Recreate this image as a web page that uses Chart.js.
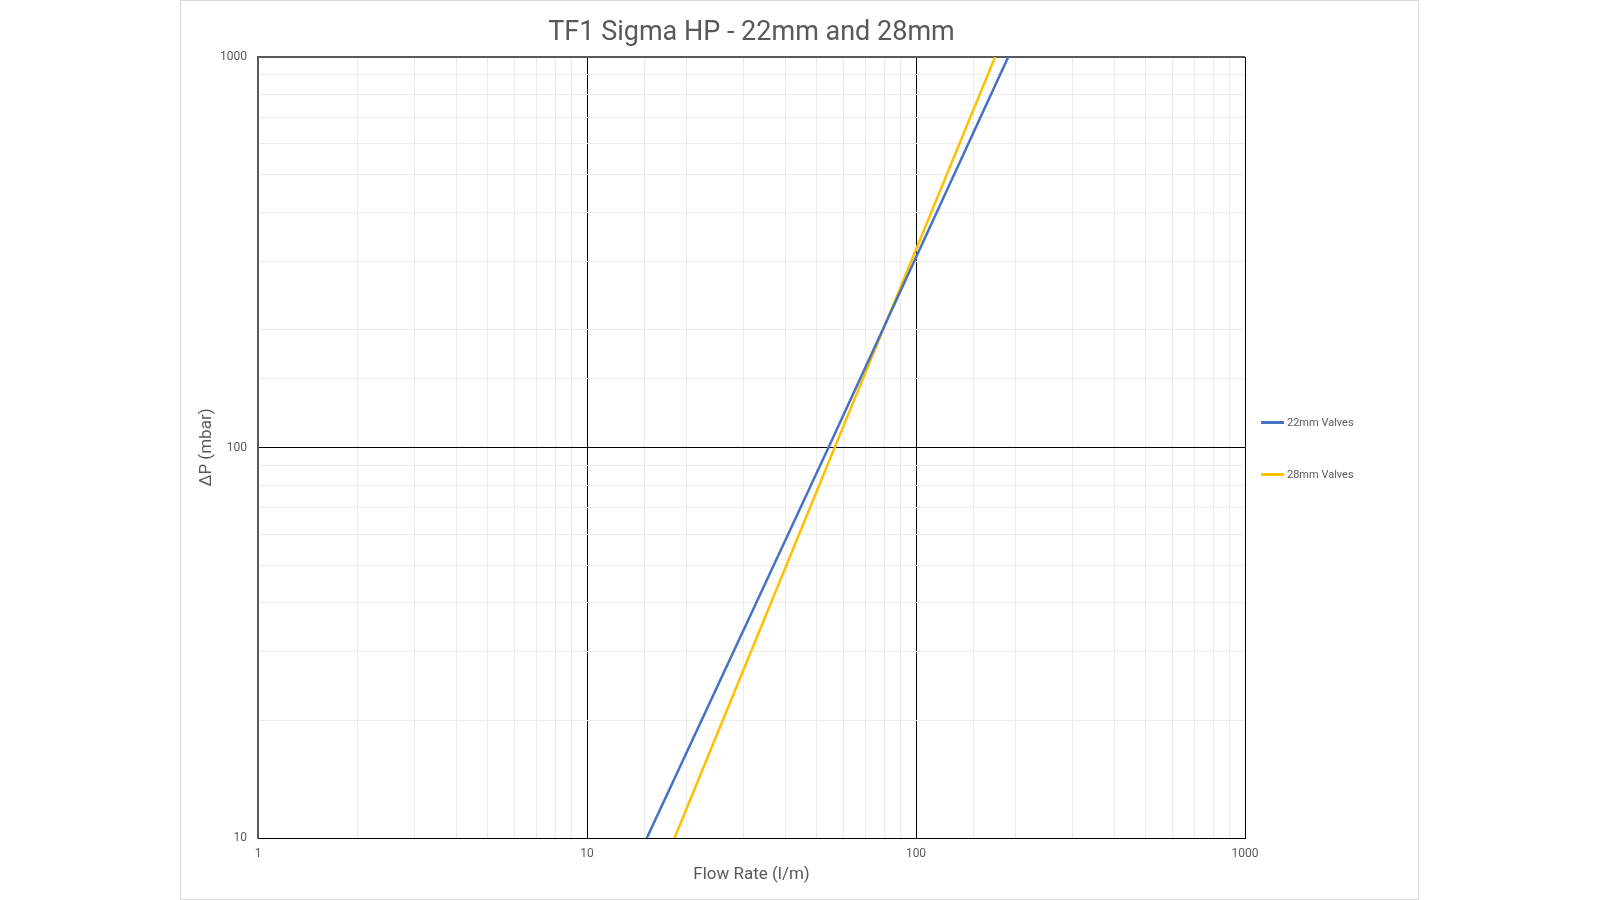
<!DOCTYPE html>
<html lang="en">
<head>
    <meta charset="UTF-8">
    <title>TF1 Sigma HP - 22mm and 28mm</title>
    <script src="https://cdn.jsdelivr.net/npm/chart.js"></script>
    <style>
        body {
            margin: 0;
            background: #ffffff;
            font-family: Roboto, sans-serif;
        }

        .frame {
            position: absolute;
            left: 180px;
            top: 0;
            width: 1237px;
            height: 898px;
            border: 1px solid #d9d9d9;
        }

        .chart-box {
            position: absolute;
            left: 181px;
            top: 0;
            width: 1237px;
            height: 899px;
        }

        /* legend on the right */
        .legend {
            position: absolute;
            left: 1261px;
            top: 0;
            color: #595959;
            font-size: 11px;
        }

        .legend-item {
            position: absolute;
            left: 0;
            white-space: nowrap;
            display: flex;
            align-items: center;
        }

        .legend-line {
            width: 23px;
            height: 2.5px;
            margin-right: 3px;
        }
    </style>
</head>
<body>
    <div class="frame"></div>
    <div class="chart-box">
        <canvas id="flowChart" width="1237" height="899"></canvas>
    </div>
    <div class="legend" id="legend"></div>

<script>
    // pressure drop (mbar) where each line crosses the grid
    const pressureDrop = [10, 100, 1000];
    // flow rate (l/m) read at those pressure drops
    const flow22mm = [15.2, 54.2, 190.7];
    const flow28mm = [18.45, 56.6, 173.9];

    const seriesNames = ["22mm Valves", "28mm Valves"];
    const seriesColors = ["#4472C4", "#FFC000"];

    const majorValues = [1, 10, 100, 1000];

    function toPoints(flows) {
        return flows.map((f, i) => ({ x: f, y: pressureDrop[i] }));
    }

    function gridColor(ctx, edgeValue) {
        let v = ctx.tick.value;
        if (v === edgeValue) return '#595959';
        if (majorValues.includes(v)) return '#000000';
        return '#ececec';
    }

    let ctx1 = document.getElementById('flowChart').getContext('2d');

    new Chart(ctx1, {
        type: 'line',
        data: {
            datasets: [{
                label: seriesNames[0],
                data: toPoints(flow22mm),
                borderColor: seriesColors[0],
                backgroundColor: seriesColors[0],
                borderWidth: 2.5,
                pointRadius: 0,
                fill: false
            }, {
                label: seriesNames[1],
                data: toPoints(flow28mm),
                borderColor: seriesColors[1],
                backgroundColor: seriesColors[1],
                borderWidth: 2.5,
                pointRadius: 0,
                fill: false
            }]
        },
        options: {
            responsive: false,
            animation: false,
            layout: { padding: { left: 0, right: 173, top: 0, bottom: 0 } },
            plugins: {
                legend: { display: false },
                tooltip: { enabled: false },
                title: {
                    display: true,
                    fullSize: false,
                    text: 'TF1 Sigma HP - 22mm and 28mm',
                    color: '#595959',
                    font: { family: 'Roboto', size: 27, weight: 'normal' },
                    padding: { top: 17.5, bottom: 7.1 }
                }
            },
            scales: {
                x: {
                    type: 'logarithmic',
                    min: 1,
                    max: 1000,
                    afterFit: (scale) => { scale.height = 61; },
                    border: { color: '#000000', width: 1 },
                    grid: {
                        drawTicks: false,
                        color: (c) => gridColor(c, 1),
                        lineWidth: (c) => c.tick.value === 1 ? 2 : 1
                    },
                    ticks: {
                        autoSkip: false,
                        maxRotation: 0,
                        padding: 9,
                        color: '#595959',
                        font: { family: 'Roboto', size: 12 },
                        callback: (v) => majorValues.includes(v) ? String(v) : ''
                    },
                    title: {
                        display: true,
                        text: 'Flow Rate (l/m)',
                        color: '#595959',
                        font: { family: 'Roboto', size: 17 },
                        padding: { top: 0, bottom: 13.8 }
                    }
                },
                y: {
                    type: 'logarithmic',
                    min: 10,
                    max: 1000,
                    afterFit: (scale) => { scale.width = 77; },
                    border: { color: '#595959', width: 2 },
                    grid: {
                        drawTicks: false,
                        color: (c) => gridColor(c, 1000),
                        lineWidth: (c) => c.tick.value === 1000 ? 2 : 1
                    },
                    ticks: {
                        autoSkip: false,
                        padding: 11,
                        color: '#595959',
                        font: { family: 'Roboto', size: 12 },
                        callback: (v) => majorValues.includes(v) ? String(v) : ''
                    },
                    title: {
                        display: true,
                        text: 'ΔP (mbar)',
                        color: '#595959',
                        font: { family: 'Roboto', size: 17 },
                        padding: { top: 15.8, bottom: 0 }
                    }
                }
            }
        }
    });

    // legend built from the series names and colours
    let legend = document.getElementById('legend');
    let legendTops = [422.5, 474.5];
    seriesNames.forEach((name, i) => {
        let item = document.createElement('div');
        item.className = 'legend-item';
        item.style.top = (legendTops[i] - 7) + 'px';
        item.style.height = '14px';
        item.innerHTML = '<span class="legend-line" style="background:' + seriesColors[i] + '"></span>' + name;
        legend.appendChild(item);
    });
</script>
</body>
</html>
